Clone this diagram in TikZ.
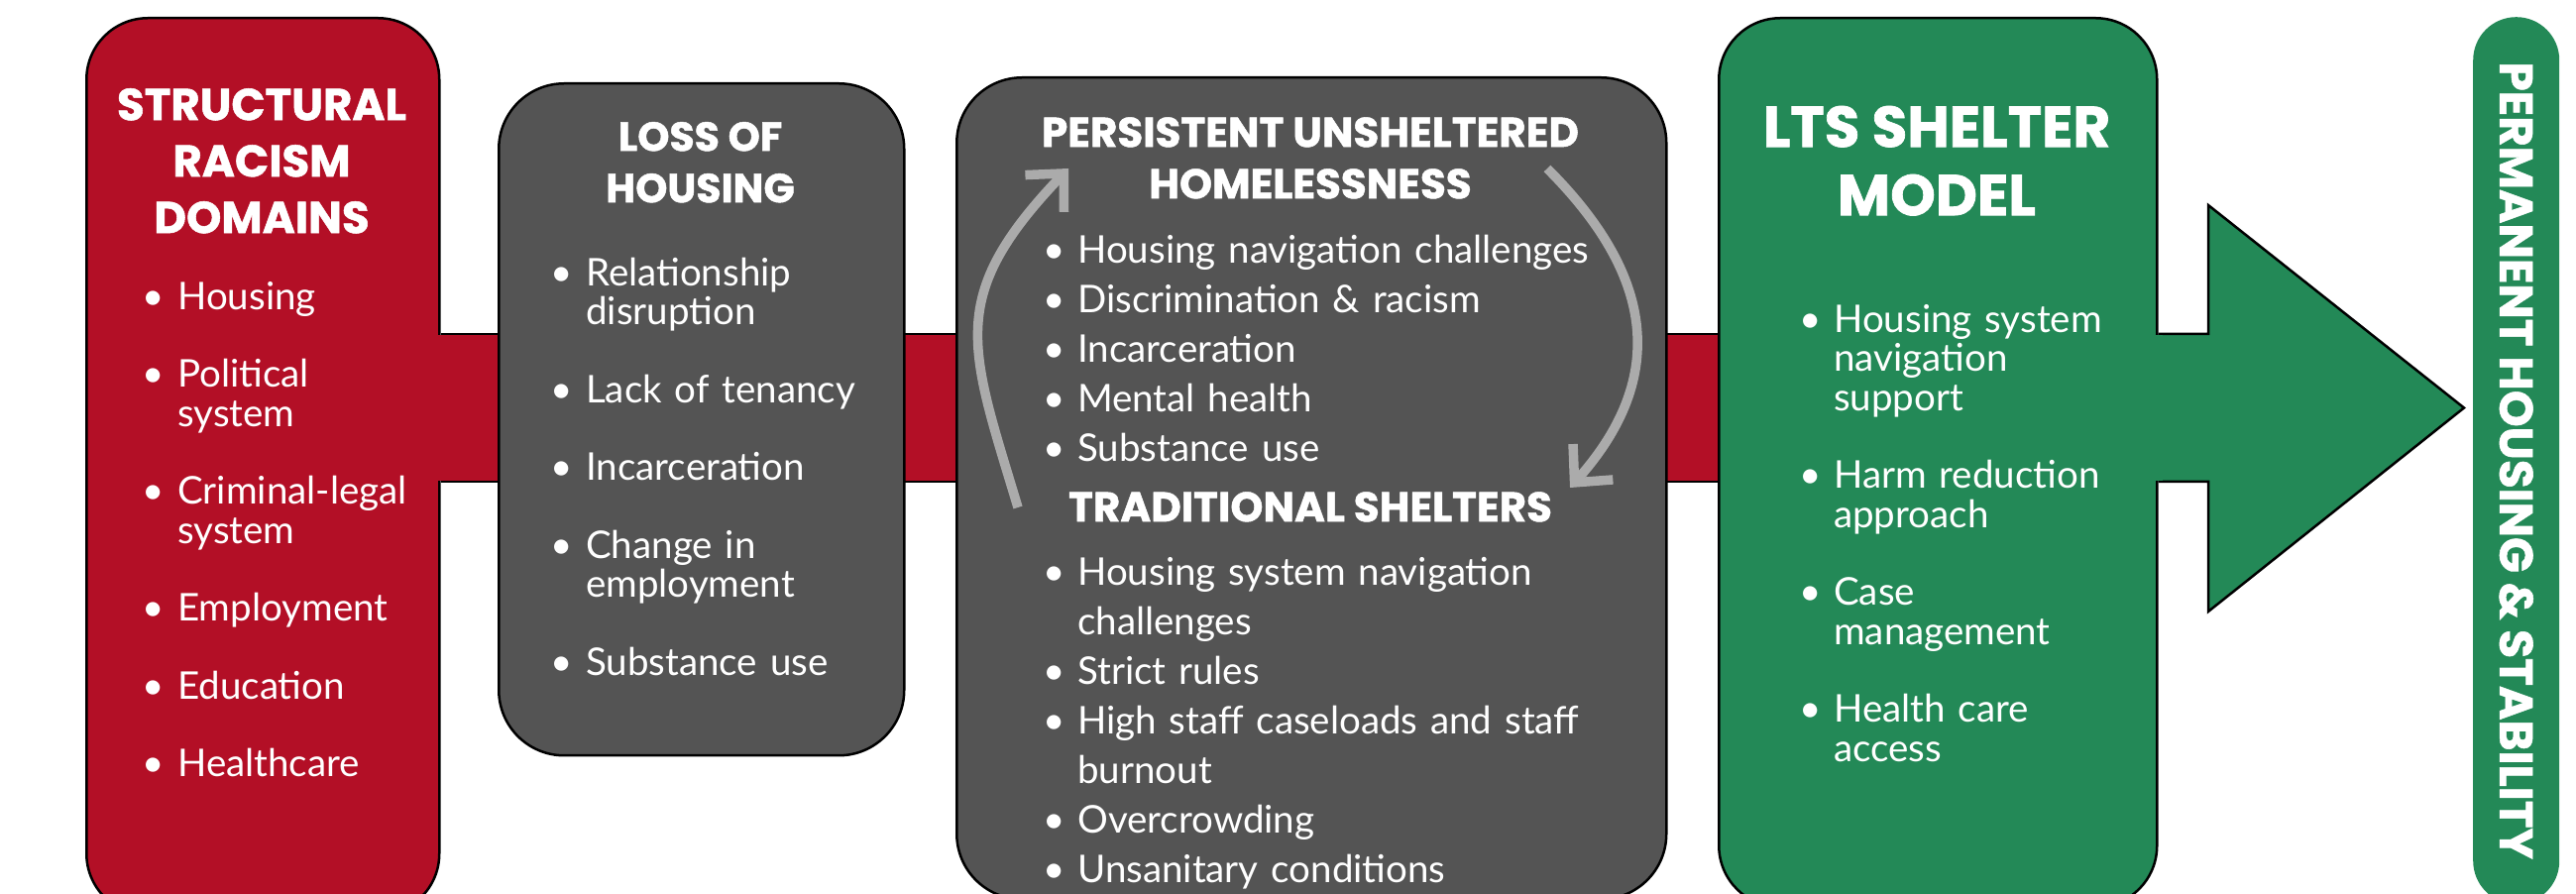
\documentclass[tikz,border=0pt]{standalone}
\usepackage{fontspec}
\setmainfont{Lato}
\newfontfamily\headfont{Poppins}[BoldFeatures={FakeBold=1.2}]
\usetikzlibrary{arrows.meta,calc}
\definecolor{redc}{RGB}{179,15,38}
\definecolor{grayc}{RGB}{84,84,84}
\definecolor{greenc}{RGB}{35,137,87}
\definecolor{arrowc}{RGB}{171,171,171}
\pgfdeclarelayer{bg}
\pgfsetlayers{bg,main}
\newlength\myind
\newlength\itemgap
\newcommand\nl{\hfil\break}
\newcommand\fitem[1]{\noindent\hangindent=\myind\hangafter=1\makebox[\myind][l]{\rule{0pt}{30pt}\textbullet}#1\par}
\newcommand\bitem[1]{\par\vskip\itemgap\noindent\hangindent=\myind\hangafter=1\makebox[\myind][l]{\textbullet}#1\par}
\tikzset{
  box/.style={draw=black, line width=2.5pt, inner sep=0pt, anchor=north west},
  listtxt/.style={anchor=north west, inner sep=0pt, align=left, text=white,
    font={\fontsize{38.5}{39.5}\selectfont\lineskiplimit=-100pt\parskip=0pt}},
  headtxt/.style={anchor=north, inner sep=0pt, align=center, text=white},
  cyc/.style={draw=arrowc, line width=9.5pt, -{Straight Barb[length=28pt,width=54pt]}},
  edge/.style={line width=2.5pt, line join=miter}
}
\begin{document}
\begin{tikzpicture}[x=1pt,y=1pt]
\useasboundingbox (0,0) rectangle (2599,902);
\clip (0,0) rectangle (2599,902);
% boxes
\node[box, fill=redc, rounded corners=62pt, minimum width=356pt, minimum height=905pt] (red) at (86,885) {};
\node[box, fill=grayc, rounded corners=66pt, minimum width=409pt, minimum height=678pt] (loss) at (502,819) {};
\node[box, fill=grayc, rounded corners=66pt, minimum width=716pt, minimum height=829pt] (mid) at (964,825) {};
\node[box, fill=greenc, rounded corners=62pt, minimum width=442pt, minimum height=897pt] (green) at (1733,885) {};
\node[anchor=north west, inner sep=0pt, fill=greenc, rounded corners=43.5pt, minimum width=87pt, minimum height=895pt] (pill) at (2495,885) {};
% band and arrow (behind)
\coordinate (bt) at (0,565);
\coordinate (bb) at (0,416);
\coordinate (hb) at (2228,0);
\coordinate (htop) at (2228,695);
\coordinate (hbot) at (2228,285);
\coordinate (tip) at (2486,490.5);
\begin{pgfonlayer}{bg}
\fill[redc] (red.east |- bb) rectangle (green.west |- bt);
\draw[edge] (red.east |- bt) -- (green.west |- bt) (red.east |- bb) -- (green.west |- bb);
\fill[greenc] (green.east |- bt) -- (hb |- bt) -- (htop) -- (tip) -- (hbot) -- (hb |- bb) -- (green.east |- bb) -- cycle;
\draw[edge] (green.east |- bt) -- (hb |- bt) -- (htop) -- (tip) -- (hbot) -- (hb |- bb) -- (green.east |- bb);
\end{pgfonlayer}
\fill[redc] ($(red.east |- bb)+(-4,1.3)$) rectangle ($(red.east |- bt)+(2,-1.3)$);
\fill[greenc] ($(green.east |- bb)+(-4,1.3)$) rectangle ($(green.east |- bt)+(4,-1.3)$);
% headings
\node[headtxt, font={\headfont\bfseries\fontsize{45}{57}\selectfont}] (rh) at (264,821) {\rule{0pt}{40pt}STRUCTURAL\\RACISM\\DOMAINS};
\node[headtxt, font={\headfont\bfseries\fontsize{41}{52}\selectfont}] (lh) at (706.5,790) {\rule{0pt}{40pt}LOSS OF\\HOUSING};
\node[headtxt, font={\headfont\bfseries\fontsize{42}{52}\selectfont}] (mh) at (1322,794) {\rule{0pt}{40pt}PERSISTENT UNSHELTERED\\HOMELESSNESS};
\node[headtxt, font={\headfont\bfseries\fontsize{42}{52}\selectfont}] (th) at (1322,416) {\rule{0pt}{40pt}TRADITIONAL SHELTERS};
\node[headtxt, font={\headfont\bfseries\fontsize{58}{69}\selectfont}] (gh) at (1954,800) {\rule{0pt}{46pt}LTS SHELTER\\MODEL};
\node[inner sep=0pt, text=white, rotate=-90, font={\headfont\bfseries\fontsize{47}{50}\selectfont}] (ph) at (pill.center) {PERMANENT HOUSING \& STABILITY};
% lists
\node[listtxt, text width=300pt] (rl) at (143,620) {\setlength\myind{36pt}\setlength\itemgap{39pt}%
\fitem{Housing}\bitem{Political\nl system}\bitem{Criminal-legal\nl system}\bitem{Employment}\bitem{Education}\bitem{Healthcare}};
\node[listtxt, text width=340pt] (ll) at (555,644) {\setlength\myind{36pt}\setlength\itemgap{39pt}%
\fitem{Relationship\nl disruption}\bitem{Lack of tenancy}\bitem{Incarceration}\bitem{Change in\nl employment}\bitem{Substance use}};
\node[listtxt, text width=600pt, font={\fontsize{38.5}{50}\selectfont\lineskiplimit=-100pt\parskip=0pt}] (ml) at (1052,667) {\setlength\myind{35pt}\setlength\itemgap{0pt}%
\fitem{Housing navigation challenges}\bitem{Discrimination \& racism}\bitem{Incarceration}\bitem{Mental health}\bitem{Substance use}};
\node[listtxt, text width=600pt, font={\fontsize{38.5}{50}\selectfont\lineskiplimit=-100pt\parskip=0pt}] (tl) at (1052,342) {\setlength\myind{35pt}\setlength\itemgap{0pt}%
\fitem{Housing system navigation\nl challenges}\bitem{Strict rules}\bitem{High staff caseloads and staff\nl burnout}\bitem{Overcrowding}\bitem{Unsanitary conditions}};
\node[listtxt, text width=340pt] (gl) at (1815,597) {\setlength\myind{35pt}\setlength\itemgap{39pt}%
\fitem{Housing system\nl navigation\nl support}\bitem{Harm reduction\nl approach}\bitem{Case\nl management}\bitem{Health care\nl access}};
% cycle arrows
\coordinate (a1s) at (1027,390);
\coordinate (a1e) at (1078,732);
\coordinate (a2s) at (1561,732);
\coordinate (a2e) at (1584,410);
\draw[cyc] (a1s) .. controls (978,553) and (954,602) .. (a1e);
\draw[cyc] (a2s) .. controls (1659,634) and (1691,530) .. (a2e);
\end{tikzpicture}
\end{document}
